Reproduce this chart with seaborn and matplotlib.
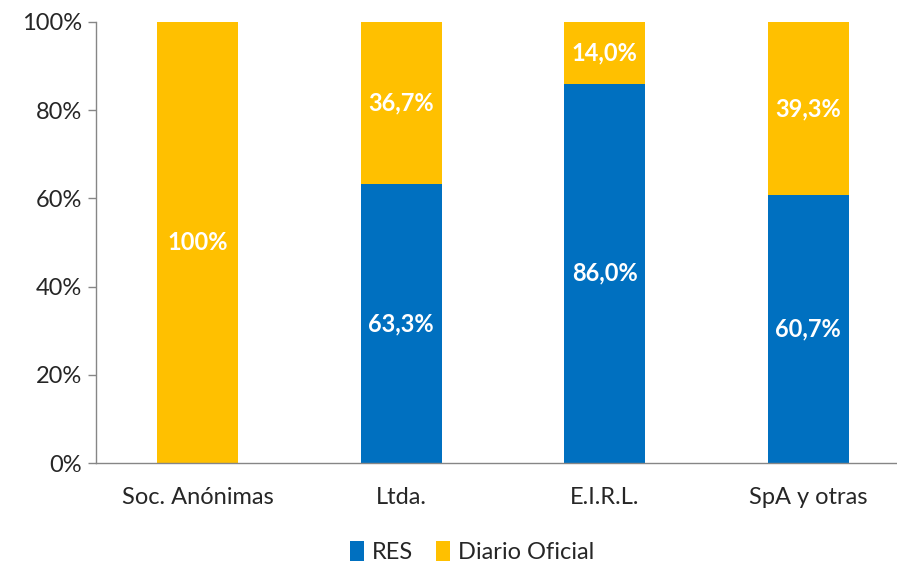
import matplotlib
matplotlib.use("Agg")
import matplotlib.pyplot as plt
import seaborn as sns
import pandas as pd

# datos
categorias = ["Soc. Anónimas", "Ltda.", "E.I.R.L.", "SpA y otras"]
res = [0.0, 63.3, 86.0, 60.7]
diario = [100.0, 36.7, 14.0, 39.3]

AZUL = "#0070C0"
AMARILLO = "#FFC000"
GRIS = "#868686"

sns.set_style("white")
plt.rcParams["font.family"] = ["Lato", "DejaVu Sans"]

df = pd.DataFrame({"cat": categorias, "RES": res, "Diario": diario})
df["total"] = df["RES"] + df["Diario"]

fig = plt.figure(figsize=(8.97, 5.65), dpi=100)
ax = fig.add_axes([96 / 897, 1 - 463 / 565, (910 - 96) / 897, (463 - 22) / 565])

sns.barplot(data=df, x="cat", y="total", color=AMARILLO, width=0.4, saturation=1,
            linewidth=0, ax=ax, label="Diario Oficial")
sns.barplot(data=df, x="cat", y="RES", color=AZUL, width=0.4, saturation=1,
            linewidth=0, ax=ax, label="RES")

def fmt(v):
    if v == 100:
        return "100%"
    return f"{v:.1f}".replace(".", ",") + "%"

for i, (r, d) in enumerate(zip(res, diario)):
    if r > 0:
        ax.text(i, r / 2, fmt(r), ha="center", va="center", color="white", fontsize=17, fontweight="bold")
    if d > 0:
        ax.text(i, r + d / 2, fmt(d), ha="center", va="center", color="white", fontsize=17, fontweight="bold")

ax.set_ylim(0, 100)
ax.set_xlim(-0.5, 3.5)
ax.set_yticks([0, 20, 40, 60, 80, 100])
ax.set_yticklabels([f"{t}%" for t in [0, 20, 40, 60, 80, 100]], fontsize=17)
ax.set_xticks([0, 1, 2, 3])
ax.set_xticklabels(categorias, fontsize=17)
ax.set_xticks([-0.5, 0.5, 1.5, 2.5, 3.5], minor=True)
ax.tick_params(axis="x", which="major", length=0, pad=17)
ax.tick_params(axis="x", which="minor", length=7, color=GRIS, width=1)
ax.tick_params(axis="y", length=6, color=GRIS, width=1, left=True, pad=4)
ax.set_xlabel("")
ax.set_ylabel("")

for s in ["top", "right"]:
    ax.spines[s].set_visible(False)
for s in ["left", "bottom"]:
    ax.spines[s].set_color(GRIS)
    ax.spines[s].set_linewidth(1)

handles, labels = ax.get_legend_handles_labels()
orden = [labels.index("RES"), labels.index("Diario Oficial")]
fig.legend([handles[k] for k in orden], [labels[k] for k in orden],
           loc="center", bbox_to_anchor=(472 / 897, 1 - 552 / 565), ncol=2,
           frameon=False, fontsize=17, handlelength=0.6, handleheight=0.9,
           handletextpad=0.3, columnspacing=1.0)
if ax.get_legend() is not None:
    ax.get_legend().remove()

fig.savefig("out.png", dpi=100)
